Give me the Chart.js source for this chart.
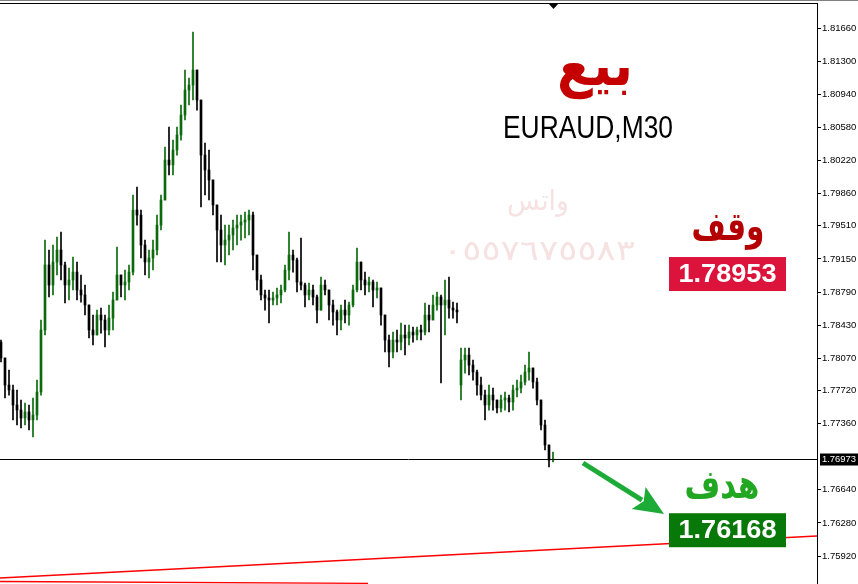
<!DOCTYPE html>
<html>
<head>
<meta charset="utf-8">
<script src="https://cdn.jsdelivr.net/npm/chart.js@4.4.1/dist/chart.umd.min.js"></script>
<style>
  html, body { margin: 0; padding: 0; background: #fff; }
  #wrap { width: 858px; height: 584px; position: relative; }
</style>
</head>
<body>
<div id="wrap"><canvas id="myChart"></canvas></div>
<script>
"use strict";
// EURAUD M30 candles (left to right)
const opens = [
    1.78246, 1.78073, 1.77779, 1.77725, 1.77562, 1.77507, 1.77420, 1.77486, 1.77399, 1.77453,
    1.77703, 1.78377, 1.79084, 1.78866, 1.79116, 1.79247, 1.79084, 1.78866, 1.78921, 1.79007,
    1.78812, 1.78758, 1.78649, 1.78377, 1.78323, 1.78540, 1.78486, 1.78377, 1.78507, 1.78703,
    1.78975, 1.78866, 1.78899, 1.79007, 1.79681, 1.79627, 1.79301, 1.79116, 1.79160, 1.79247,
    1.79518, 1.79790, 1.80225, 1.80171, 1.80334, 1.80497, 1.80714, 1.80986, 1.81040, 1.81203,
    1.80877, 1.80279, 1.80116, 1.80008, 1.79736, 1.79464, 1.79301, 1.79355, 1.79410, 1.79486,
    1.79518, 1.79551, 1.79573, 1.79627, 1.79192, 1.78921, 1.78758, 1.78725, 1.78703, 1.78725,
    1.78758, 1.78812, 1.79029, 1.79192, 1.79138, 1.78899, 1.78866, 1.78758, 1.78812, 1.78736,
    1.78594, 1.78866, 1.78812, 1.78649, 1.78573, 1.78486, 1.78594, 1.78540, 1.78649, 1.78812,
    1.79116, 1.78921, 1.78866, 1.78899, 1.78812, 1.78834, 1.78540, 1.78268, 1.78138, 1.78268,
    1.78246, 1.78323, 1.78290, 1.78355, 1.78323, 1.78377, 1.78355, 1.78540, 1.78486, 1.78649,
    1.78736, 1.78649, 1.78703, 1.78616, 1.78594, 1.77779, 1.78051, 1.78105, 1.77996, 1.77920,
    1.77779, 1.77670, 1.77562, 1.77670, 1.77616, 1.77529, 1.77616, 1.77638, 1.77594, 1.77725,
    1.77746, 1.77812, 1.77920, 1.77964, 1.77812, 1.77616, 1.77344, 1.77127, 1.76964
];
const highs = [
    1.78268, 1.78073, 1.77942, 1.77779, 1.77725, 1.77616, 1.77583, 1.77562, 1.77638, 1.77833,
    1.78486, 1.79355, 1.79247, 1.79301, 1.79388, 1.79442, 1.79116, 1.79051, 1.79170, 1.79116,
    1.78975, 1.78866, 1.78649, 1.78540, 1.78594, 1.78616, 1.78540, 1.78649, 1.78790, 1.79279,
    1.78975, 1.79029, 1.79084, 1.79845, 1.79932, 1.79681, 1.79355, 1.79247, 1.79355, 1.79627,
    1.79845, 1.80366, 1.80584, 1.80442, 1.80584, 1.80823, 1.81203, 1.81116, 1.81616, 1.81203,
    1.80877, 1.80410, 1.80334, 1.80008, 1.79736, 1.79627, 1.79518, 1.79518, 1.79573, 1.79627,
    1.79627, 1.79660, 1.79681, 1.79660, 1.79192, 1.78975, 1.78812, 1.78812, 1.78790, 1.78834,
    1.78866, 1.79084, 1.79442, 1.79247, 1.79160, 1.79377, 1.78888, 1.78888, 1.78866, 1.78758,
    1.78953, 1.78921, 1.78812, 1.78703, 1.78594, 1.78649, 1.78703, 1.78681, 1.78866, 1.79268,
    1.79116, 1.79007, 1.78953, 1.78921, 1.78899, 1.78834, 1.78540, 1.78323, 1.78355, 1.78377,
    1.78453, 1.78431, 1.78431, 1.78410, 1.78410, 1.78431, 1.78671, 1.78649, 1.78758, 1.78790,
    1.78758, 1.78921, 1.78953, 1.78681, 1.78671, 1.78181, 1.78181, 1.78181, 1.78051, 1.77942,
    1.77866, 1.77725, 1.77779, 1.77746, 1.77616, 1.77670, 1.77703, 1.77670, 1.77779, 1.77833,
    1.77888, 1.77996, 1.78138, 1.77964, 1.77855, 1.77616, 1.77399, 1.77127, 1.77051
];
const lows = [
    1.78029, 1.77638, 1.77670, 1.77399, 1.77344, 1.77312, 1.77344, 1.77290, 1.77214, 1.77399,
    1.77670, 1.78323, 1.78736, 1.78758, 1.78975, 1.78921, 1.78671, 1.78703, 1.78812, 1.78703,
    1.78681, 1.78540, 1.78290, 1.78214, 1.78323, 1.78344, 1.78192, 1.78323, 1.78377, 1.78703,
    1.78736, 1.78703, 1.78812, 1.78975, 1.79518, 1.79160, 1.78975, 1.78942, 1.79029, 1.79192,
    1.79464, 1.79790, 1.80062, 1.80062, 1.80279, 1.80442, 1.80660, 1.80823, 1.80877, 1.80768,
    1.79714, 1.79845, 1.79790, 1.79627, 1.79116, 1.79116, 1.79084, 1.79192, 1.79247, 1.79301,
    1.79355, 1.79377, 1.79410, 1.79029, 1.78812, 1.78703, 1.78594, 1.78453, 1.78649, 1.78649,
    1.78671, 1.78790, 1.78921, 1.79007, 1.78790, 1.78812, 1.78627, 1.78703, 1.78649, 1.78453,
    1.78594, 1.78758, 1.78486, 1.78431, 1.78323, 1.78377, 1.78453, 1.78431, 1.78627, 1.78790,
    1.78812, 1.78758, 1.78790, 1.78627, 1.78725, 1.78431, 1.78138, 1.77975, 1.78073, 1.78138,
    1.78160, 1.78105, 1.78214, 1.78246, 1.78268, 1.78268, 1.78323, 1.78355, 1.78486, 1.78594,
    1.77801, 1.78323, 1.78507, 1.78507, 1.78453, 1.77616, 1.77909, 1.77888, 1.77833, 1.77670,
    1.77616, 1.77399, 1.77507, 1.77507, 1.77475, 1.77486, 1.77507, 1.77486, 1.77507, 1.77649,
    1.77692, 1.77779, 1.77833, 1.77746, 1.77562, 1.77290, 1.77073, 1.76888, 1.76942
];
const closes = [
    1.78073, 1.77779, 1.77725, 1.77562, 1.77507, 1.77420, 1.77486, 1.77399, 1.77453, 1.77703,
    1.78377, 1.79084, 1.78866, 1.79116, 1.79247, 1.79084, 1.78866, 1.78921, 1.79007, 1.78812,
    1.78758, 1.78649, 1.78377, 1.78323, 1.78540, 1.78486, 1.78377, 1.78507, 1.78703, 1.78975,
    1.78866, 1.78899, 1.79007, 1.79681, 1.79627, 1.79301, 1.79116, 1.79160, 1.79247, 1.79518,
    1.79790, 1.80225, 1.80171, 1.80334, 1.80497, 1.80714, 1.80986, 1.81040, 1.81203, 1.80877,
    1.80279, 1.80116, 1.80008, 1.79736, 1.79464, 1.79301, 1.79355, 1.79410, 1.79486, 1.79518,
    1.79551, 1.79573, 1.79627, 1.79192, 1.78921, 1.78758, 1.78725, 1.78703, 1.78725, 1.78758,
    1.78812, 1.79029, 1.79192, 1.79138, 1.78899, 1.78866, 1.78758, 1.78812, 1.78736, 1.78594,
    1.78866, 1.78812, 1.78649, 1.78573, 1.78486, 1.78594, 1.78540, 1.78649, 1.78812, 1.79116,
    1.78921, 1.78866, 1.78899, 1.78812, 1.78834, 1.78540, 1.78268, 1.78138, 1.78268, 1.78246,
    1.78323, 1.78290, 1.78355, 1.78323, 1.78377, 1.78355, 1.78540, 1.78486, 1.78649, 1.78736,
    1.78649, 1.78703, 1.78616, 1.78594, 1.78573, 1.78051, 1.78105, 1.77996, 1.77920, 1.77779,
    1.77670, 1.77562, 1.77670, 1.77616, 1.77529, 1.77616, 1.77638, 1.77594, 1.77725, 1.77746,
    1.77812, 1.77920, 1.77964, 1.77812, 1.77616, 1.77344, 1.77127, 1.76964, 1.76973
];
// price axis labels
const tickValues = [1.81660, 1.81300, 1.80940, 1.80580, 1.80220, 1.79860, 1.79510, 1.79150,
    1.78790, 1.78430, 1.78070, 1.77720, 1.77360, 1.76640, 1.76280, 1.75920];
// red trend lines (bar index, price)
const trendAX = [-0.25, 204];
const trendAY = [1.75681, 1.76138];
const trendBX = [-0.25, 91.75];
const trendBY = [1.75643, 1.75623];
// levels
const bidPrice = 1.76973;
const stopPrice = 1.78953;
const targetPrice = 1.76168;

const colors = {
    up: "#0b6a0b",
    down: "#000000",
    trend: "#ff0000",
    stopBox: "#dc143c",
    targetBox: "#087808",
    arrow: "#1dab38",
    faint: "#f6e2e2"
};

const wicks = closes.map((c, i) => ({ x: i, y: [lows[i], highs[i]] }));
const bodies = closes.map((c, i) => ({ x: i, y: [opens[i], c] }));
const candleColors = closes.map((c, i) => c >= opens[i] ? colors.up : colors.down);

function drawFit(ctx, text, cx, cy, font, color, width) {
    ctx.save();
    ctx.font = font;
    ctx.fillStyle = color;
    ctx.textAlign = "center";
    ctx.textBaseline = "middle";
    let sx = 1;
    if (width) sx = width / ctx.measureText(text).width;
    ctx.translate(cx, cy);
    ctx.scale(sx, 1);
    ctx.fillText(text, 0, 0);
    ctx.restore();
}

function priceBox(ctx, yScale, price, bg) {
    const py = yScale.getPixelForValue(price);
    ctx.fillStyle = bg;
    ctx.fillRect(669, py - 20, 117, 34);
    drawFit(ctx, price.toFixed(5), 727.5, py - 2, "bold 26px 'Liberation Sans', Arial", "#ffffff", 98);
}

const overlay = {
    id: "overlay",
    afterDraw(chart) {
        const ctx = chart.ctx;
        const y = chart.scales.y;
        const area = chart.chartArea;
        ctx.save();
        // frame at the top
        ctx.fillStyle = "#808080";
        ctx.fillRect(0, 0, 858, 1);
        ctx.fillStyle = "#000";
        ctx.fillRect(0, 3, area.right + 1, 1);
        ctx.beginPath();
        ctx.moveTo(549, 4); ctx.lineTo(558, 4); ctx.lineTo(553.5, 9);
        ctx.closePath();
        ctx.fill();
        // bid line + label
        const by = Math.round(y.getPixelForValue(bidPrice)) + 0.5;
        ctx.strokeStyle = "#000";
        ctx.lineWidth = 1;
        ctx.beginPath();
        ctx.moveTo(0, by); ctx.lineTo(area.right, by);
        ctx.stroke();
        ctx.fillRect(area.right + 3, by - 6, 858 - area.right - 3, 12);
        drawFit(ctx, bidPrice.toFixed(5), 839, by, "9.5px 'Liberation Sans', Arial", "#fff", 34);

        // watermark
        drawFit(ctx, "واتس", 538, 203, "28px 'DejaVu Sans'", colors.faint, 62);
        drawFit(ctx, "٠٥٥٧٦٧٥٥٨٣", 539, 253, "28px 'DejaVu Sans'", colors.faint, 192);
        // titles
        drawFit(ctx, "بيع", 595, 70, "bold 58px 'DejaVu Sans'", "#c40000", 76);
        drawFit(ctx, "EURAUD,M30", 588, 129, "31px 'Liberation Sans', Arial", "#000", 170);
        drawFit(ctx, "وقف", 728, 230, "bold 40px 'DejaVu Sans'", "#b40000", 73);
        drawFit(ctx, "هدف", 722, 488, "bold 40px 'DejaVu Sans'", "#22a722", 75);
        priceBox(ctx, y, stopPrice, colors.stopBox);
        priceBox(ctx, y, targetPrice, colors.targetBox);

        // arrow toward target
        const tx = 664, ty = 514, fx = 583, fy = 463;
        const ang = Math.atan2(ty - fy, tx - fx);
        const hl = 30, hw = 13;
        const bx = tx - hl * Math.cos(ang), byy = ty - hl * Math.sin(ang);
        ctx.strokeStyle = colors.arrow;
        ctx.fillStyle = colors.arrow;
        ctx.lineWidth = 5;
        ctx.beginPath();
        ctx.moveTo(fx, fy); ctx.lineTo(bx + 4 * Math.cos(ang), byy + 4 * Math.sin(ang));
        ctx.stroke();
        ctx.beginPath();
        ctx.moveTo(tx, ty);
        ctx.lineTo(bx - hw * Math.sin(ang), byy + hw * Math.cos(ang));
        ctx.lineTo(bx + 6 * Math.cos(ang), byy + 6 * Math.sin(ang));
        ctx.lineTo(bx + hw * Math.sin(ang), byy - hw * Math.cos(ang));
        ctx.closePath();
        ctx.fill();
        ctx.restore();
    }
};

const chart = new Chart(document.getElementById("myChart"), {
    type: "bar",
    data: {
        datasets: [
            {
                label: "wick",
                data: wicks,
                backgroundColor: candleColors,
                barThickness: 1,
                grouped: false,
                order: 2
            },
            {
                label: "body",
                data: bodies,
                backgroundColor: candleColors,
                barThickness: 2,
                minBarLength: 1,
                grouped: false,
                order: 1
            },
            {
                type: "line",
                label: "trendA",
                data: trendAX.map((x, i) => ({ x: x, y: trendAY[i] })),
                borderColor: colors.trend,
                borderWidth: 1.3,
                pointRadius: 0,
                order: 0
            },
            {
                type: "line",
                label: "trendB",
                data: trendBX.map((x, i) => ({ x: x, y: trendBY[i] })),
                borderColor: colors.trend,
                borderWidth: 1.3,
                pointRadius: 0,
                order: 0
            }
        ]
    },
    options: {
        responsive: true,
        maintainAspectRatio: false,
        animation: false,
        layout: { padding: { top: 4, left: 0, right: 0, bottom: 0 } },
        plugins: { legend: { display: false }, tooltip: { enabled: false } },
        scales: {
            x: {
                type: "linear",
                min: -0.25,
                max: 204,
                offset: false,
                display: false
            },
            y: {
                type: "linear",
                position: "right",
                min: 1.75616,
                max: 1.81921,
                afterBuildTicks: (scale) => {
                    scale.ticks = tickValues.map(v => ({ value: v }));
                },
                afterFit: (scale) => {
                    scale.width = 41;
                    scale.paddingTop = 0;
                    scale.paddingBottom = 0;
                },
                border: { display: true, color: "#000", width: 1 },
                grid: { drawOnChartArea: false, drawTicks: true, tickLength: 4, color: "#000" },
                ticks: {
                    padding: 1,
                    color: "#000",
                    font: { family: "'Liberation Sans', Arial", size: 9.5 },
                    callback: (v) => Number(v).toFixed(5)
                }
            }
        }
    },
    plugins: [overlay]
});
</script>
</body>
</html>
